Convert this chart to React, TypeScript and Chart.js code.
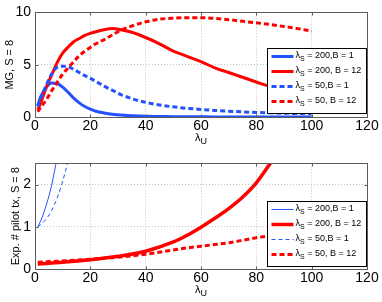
import React, { useEffect, useRef } from 'react';
import { Chart, registerables } from 'chart.js';

Chart.register(...registerables);

const FONT = "'Liberation Sans', Arial, Helvetica, sans-serif";
const BLUE = '#2452ff';
const RED = '#ff0000';
const FRAME = '#5c5c5c';

const legendLabels = ['λ_S = 200,B = 1', 'λ_S = 200, B = 12', 'λ_S = 50,B = 1', 'λ_S = 50, B = 12'];
const xTitle = 'λ_U';
const mgTitle = 'MG, S = 8';
const pilotTitle = 'Exp. # pilot tx, S = 8';

// top panel (MG)
const mgX = [1, 2, 4, 6, 8, 10, 12, 14, 16, 18, 20, 22, 25, 28, 31, 35, 40, 45, 50, 55, 60, 65, 70, 75, 80, 85, 90, 95, 100];
const mgS200B1 = [1.1, 1.9, 2.8, 3.25, 3.2, 2.85, 2.35, 1.8, 1.35, 1.0, 0.75, 0.55, 0.38, 0.26, 0.18, 0.12, 0.07, 0.05, 0.03, 0.02, 0.015, 0.01, 0.01, 0.01, 0.01, 0.01, 0.01, 0.01, 0.01];
const mgS200B12 = [0.7, 1.3, 2.8, 4.0, 5.2, 6.1, 6.7, 7.2, 7.5, 7.8, 8.0, 8.15, 8.35, 8.45, 8.35, 8.1, 7.6, 7.0, 6.3, 5.8, 5.3, 4.7, 4.25, 3.8, 3.35, 2.9, 2.55, 2.25, 2.0];
const mgS50B1 = [1.0, 1.7, 3.0, 4.1, 4.75, 4.85, 4.8, 4.55, 4.25, 3.95, 3.7, 3.4, 2.95, 2.55, 2.15, 1.75, 1.4, 1.15, 0.97, 0.83, 0.72, 0.63, 0.55, 0.49, 0.44, 0.4, 0.36, 0.33, 0.3];
const mgS50B12 = [0.5, 0.9, 1.6, 2.5, 3.3, 4.1, 4.7, 5.3, 5.85, 6.3, 6.65, 7.0, 7.4, 7.85, 8.3, 8.7, 9.1, 9.35, 9.45, 9.5, 9.5, 9.42, 9.3, 9.15, 9.0, 8.85, 8.65, 8.45, 8.2];

// bottom panel (expected # pilot transmissions)
const pilotS200B1X = [1, 2, 3, 4, 5, 6, 7, 8, 9];
const pilotS200B1 = [1.0, 1.13, 1.3, 1.5, 1.72, 1.98, 2.3, 2.65, 3.05];
const pilotS50B1X = [1, 2, 4, 6, 8, 10, 12, 13];
const pilotS50B1 = [1.0, 1.05, 1.18, 1.38, 1.68, 2.08, 2.58, 2.9];
const pilotRedX = [1, 10, 20, 30, 40, 50, 55, 60, 65, 70, 75, 80, 85, 90, 95, 100];
const pilotS200B12 = [0.12, 0.16, 0.22, 0.3, 0.42, 0.64, 0.8, 0.99, 1.2, 1.43, 1.7, 2.04, 2.5, 3.0, 3.6, 4.3];
const pilotS50B12 = [0.16, 0.19, 0.23, 0.28, 0.35, 0.45, 0.5, 0.54, 0.58, 0.62, 0.68, 0.74, 0.79, 0.85, 0.91, 0.97];

const xTicks = [0, 20, 40, 60, 80, 100, 120];
const mgTicks = [0, 5, 10];
const pilotTicks = [0, 1, 2];

const pts = (xs: number[], ys: number[]) => xs.map((x, i) => ({ x, y: ys[i] }));

function drawSubText(ctx: CanvasRenderingContext2D, text: string, x: number, y: number, size: number, subSize: number, subDy: number, align: 'left' | 'center') {
  const idx = text.indexOf('_');
  const pre = idx >= 0 ? text.slice(0, idx) : text;
  const sub = idx >= 0 ? text.charAt(idx + 1) : '';
  const post = idx >= 0 ? text.slice(idx + 2) : '';
  ctx.textBaseline = 'middle';
  ctx.textAlign = 'left';
  ctx.font = `${size}px ${FONT}`;
  const w1 = ctx.measureText(pre).width;
  const w3 = ctx.measureText(post).width;
  ctx.font = `${subSize}px ${FONT}`;
  const w2 = ctx.measureText(sub).width;
  let cx = align === 'center' ? x - (w1 + w2 + w3) / 2 : x;
  ctx.font = `${size}px ${FONT}`;
  ctx.fillText(pre, cx, y);
  cx += w1;
  ctx.font = `${subSize}px ${FONT}`;
  ctx.fillText(sub, cx, y + subDy);
  cx += w2;
  ctx.font = `${size}px ${FONT}`;
  ctx.fillText(post, cx, y);
}

function decorPlugin(yTitle: string, yTitleX: number, legendBottomGap: number) {
  return {
    id: 'matlabDecor',
    afterDraw(chart: any) {
      const { ctx, chartArea: a, scales } = chart;
      const xs = scales.x;
      const ys = scales.y;
      const L = Math.round(a.left) + 0.5;
      const R = Math.round(a.right) + 0.5;
      const T = Math.round(a.top) + 0.5;
      const B = Math.round(a.bottom) + 0.5;
      ctx.save();
      ctx.setLineDash([]);
      ctx.strokeStyle = FRAME;
      ctx.lineWidth = 1;
      ctx.strokeRect(L, T, R - L, B - T);
      ctx.beginPath();
      xs.ticks.forEach((t: any) => {
        const px = Math.round(xs.getPixelForValue(t.value)) + 0.5;
        ctx.moveTo(px, B); ctx.lineTo(px, B - 3);
        ctx.moveTo(px, T); ctx.lineTo(px, T + 3);
      });
      ys.ticks.forEach((t: any) => {
        const py = Math.round(ys.getPixelForValue(t.value)) + 0.5;
        ctx.moveTo(L, py); ctx.lineTo(L + 3, py);
        ctx.moveTo(R, py); ctx.lineTo(R - 3, py);
      });
      ctx.stroke();

      // legend
      const bw = 99, bh = 65;
      const bx = Math.round(a.right) - 100 + 0.5;
      const by = Math.round(a.bottom) - legendBottomGap - bh + 0.5;
      ctx.fillStyle = '#ffffff';
      ctx.fillRect(bx, by, bw, bh);
      ctx.strokeStyle = '#000000';
      ctx.lineWidth = 1;
      ctx.strokeRect(bx, by, bw, bh);
      chart.data.datasets.forEach((ds: any, i: number) => {
        const ry = Math.round(by + 7 + i * 15) + 0.5;
        ctx.save();
        ctx.strokeStyle = ds.borderColor;
        ctx.lineWidth = ds.borderWidth;
        ctx.setLineDash(ds.borderDash || []);
        ctx.beginPath();
        ctx.moveTo(bx + 4, ry);
        ctx.lineTo(bx + 26, ry);
        ctx.stroke();
        ctx.restore();
        ctx.fillStyle = '#000000';
        drawSubText(ctx, ds.label, bx + 28, ry - 0.5, 9, 7, 3, 'left');
      });

      // titles
      ctx.fillStyle = '#000000';
      drawSubText(ctx, xTitle, (a.left + a.right) / 2, a.bottom + 21, 11, 9, 4, 'center');
      ctx.save();
      ctx.translate(yTitleX, (a.top + a.bottom) / 2);
      ctx.rotate(-Math.PI / 2);
      ctx.font = `11px ${FONT}`;
      ctx.textAlign = 'center';
      ctx.textBaseline = 'middle';
      ctx.fillText(yTitle, 0, 0);
      ctx.restore();
      ctx.restore();
    },
  };
}

function makeConfig(datasets: any[], yMax: number, yTicks: number[], topPad: number, xHeight: number, yTitle: string, yTitleX: number, legendGap: number) {
  return {
    type: 'line' as const,
    data: { datasets },
    options: {
      animation: false as const,
      responsive: false,
      devicePixelRatio: 1,
      layout: { padding: { top: topPad, right: 15, left: 0, bottom: 0 } },
      plugins: { legend: { display: false }, tooltip: { enabled: false } },
      elements: { point: { radius: 0 }, line: { cubicInterpolationMode: 'monotone' as const } },
      scales: {
        x: {
          type: 'linear' as const,
          min: xTicks[0],
          max: xTicks[xTicks.length - 1],
          afterBuildTicks: (s: any) => { s.ticks = xTicks.map((v) => ({ value: v })); },
          afterFit: (s: any) => { s.height = xHeight; },
          ticks: { padding: 1, color: '#000', font: { family: FONT, size: 14 }, maxRotation: 0 },
          grid: { color: '#c4c4c4', drawTicks: false, lineWidth: 1 },
          border: { display: false, dash: [1, 2] },
        },
        y: {
          type: 'linear' as const,
          min: 0,
          max: yMax,
          afterBuildTicks: (s: any) => { s.ticks = yTicks.map((v) => ({ value: v })); },
          afterFit: (s: any) => { s.width = 35; },
          ticks: { padding: 4, color: '#000', font: { family: FONT, size: 14 } },
          grid: { color: '#c4c4c4', drawTicks: false, lineWidth: 1 },
          border: { display: false, dash: [1, 2] },
        },
      },
    },
    plugins: [decorPlugin(yTitle, yTitleX, legendGap)],
  };
}

export default function App() {
  const topRef = useRef<HTMLCanvasElement | null>(null);
  const botRef = useRef<HTMLCanvasElement | null>(null);

  useEffect(() => {
    const top = new Chart(topRef.current as HTMLCanvasElement, makeConfig([
      { label: legendLabels[0], data: pts(mgX, mgS200B1), borderColor: BLUE, borderWidth: 3, borderDash: [], order: 4 },
      { label: legendLabels[1], data: pts(mgX, mgS200B12), borderColor: RED, borderWidth: 3, borderDash: [], order: 3 },
      { label: legendLabels[2], data: pts(mgX, mgS50B1), borderColor: BLUE, borderWidth: 3, borderDash: [5, 3], order: 2 },
      { label: legendLabels[3], data: pts(mgX, mgS50B12), borderColor: RED, borderWidth: 3, borderDash: [5, 3], order: 1 },
    ], 10, mgTicks, 10, 34, mgTitle, 10, 4) as any);
    const bot = new Chart(botRef.current as HTMLCanvasElement, makeConfig([
      { label: legendLabels[0], data: pts(pilotS200B1X, pilotS200B1), borderColor: BLUE, borderWidth: 1, borderDash: [], order: 4 },
      { label: legendLabels[1], data: pts(pilotRedX, pilotS200B12), borderColor: RED, borderWidth: 3.5, borderDash: [], order: 3 },
      { label: legendLabels[2], data: pts(pilotS50B1X, pilotS50B1), borderColor: BLUE, borderWidth: 1, borderDash: [4, 3], order: 2 },
      { label: legendLabels[3], data: pts(pilotRedX, pilotS50B12), borderColor: RED, borderWidth: 3, borderDash: [5, 3], order: 1 },
    ], 2.5, pilotTicks, 12, 33, pilotTitle, 16, 3) as any);
    return () => { top.destroy(); bot.destroy(); };
  }, []);

  return (
    <div style={{ position: 'absolute', left: 0, top: 0, width: 382, height: 302, background: '#fff' }}>
      <canvas ref={topRef} width={382} height={151} style={{ display: 'block', width: 382, height: 151 }} />
      <canvas ref={botRef} width={382} height={151} style={{ display: 'block', width: 382, height: 151 }} />
    </div>
  );
}
